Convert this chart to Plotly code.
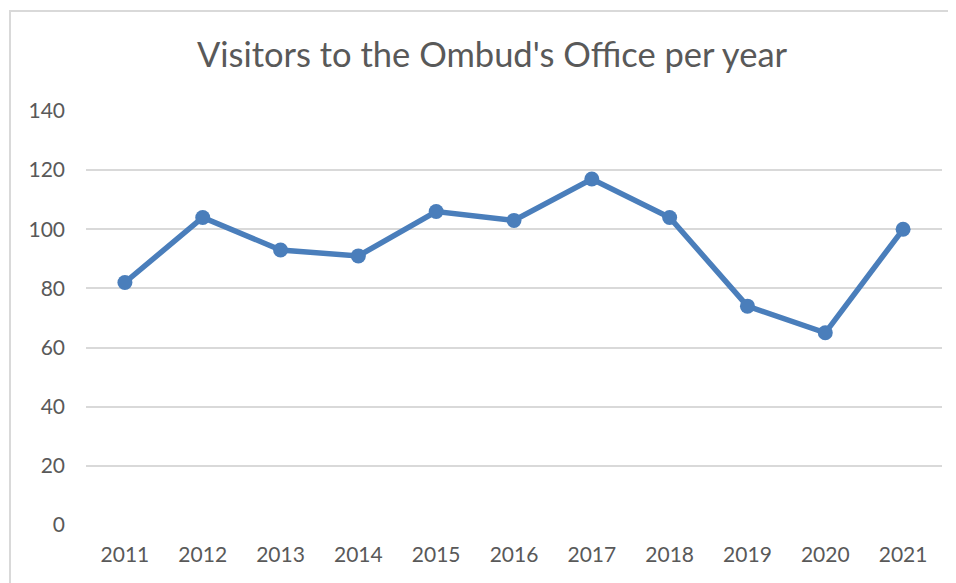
import plotly.graph_objects as go

years = ["2011", "2012", "2013", "2014", "2015", "2016", "2017", "2018", "2019", "2020", "2021"]
visitors = [82, 104, 93, 91, 106, 103, 117, 104, 74, 65, 100]
y_ticks = [0, 20, 40, 60, 80, 100, 120, 140]

# page body has an 8px margin, so the figure is drawn 8px smaller and offset
OFF = 8
W, H = 956 - OFF, 583 - OFF
L, T = 86 - OFF, 111 - OFF
R = W - (942 - OFF)
B = H - (525 - OFF)
pw, ph = W - L - R, H - T - B

def px_x(x):
    return (x - OFF - L) / pw

def px_y(y):
    return (H - B - (y - OFF)) / ph

fig = go.Figure()
fig.add_trace(go.Scatter(
    x=list(range(len(years))), y=visitors, mode="lines+markers",
    line=dict(color="#4a7ebb", width=5.5),
    marker=dict(color="#4a7ebb", size=15),
    hoverinfo="skip", showlegend=False,
))

fig.update_layout(
    width=W, height=H,
    margin=dict(l=L, r=R, t=T, b=B),
    paper_bgcolor="white", plot_bgcolor="white",
    font=dict(family="Lato, Calibri, sans-serif", color="#595959", size=21),
    title=dict(text="Visitors to the Ombud's Office per year", x=(492 - OFF) / W, xanchor="center",
               y=1 - (55 - OFF) / H, yanchor="middle",
               font=dict(size=34.5, color="#595959", family="Lato, Calibri, sans-serif")),
    xaxis=dict(range=[-0.5, len(years) - 0.5], tickmode="array",
               tickvals=list(range(len(years))), ticktext=years,
               showgrid=False, zeroline=False, showline=False, ticks="",
               ticklabelstandoff=15),
    yaxis=dict(range=[0, 140], tickmode="array", tickvals=y_ticks,
               showgrid=True, gridcolor="#d9d9d9", gridwidth=1.5,
               zeroline=False, showline=False, ticks="", ticklabelstandoff=20),
    shapes=[dict(type="rect", xref="paper", yref="paper",
                 x0=px_x(10), x1=px_x(980), y0=px_y(610), y1=px_y(11),
                 line=dict(color="#d9d9d9", width=2), fillcolor="rgba(0,0,0,0)",
                 layer="below")],
)

fig.write_html("out.html")
